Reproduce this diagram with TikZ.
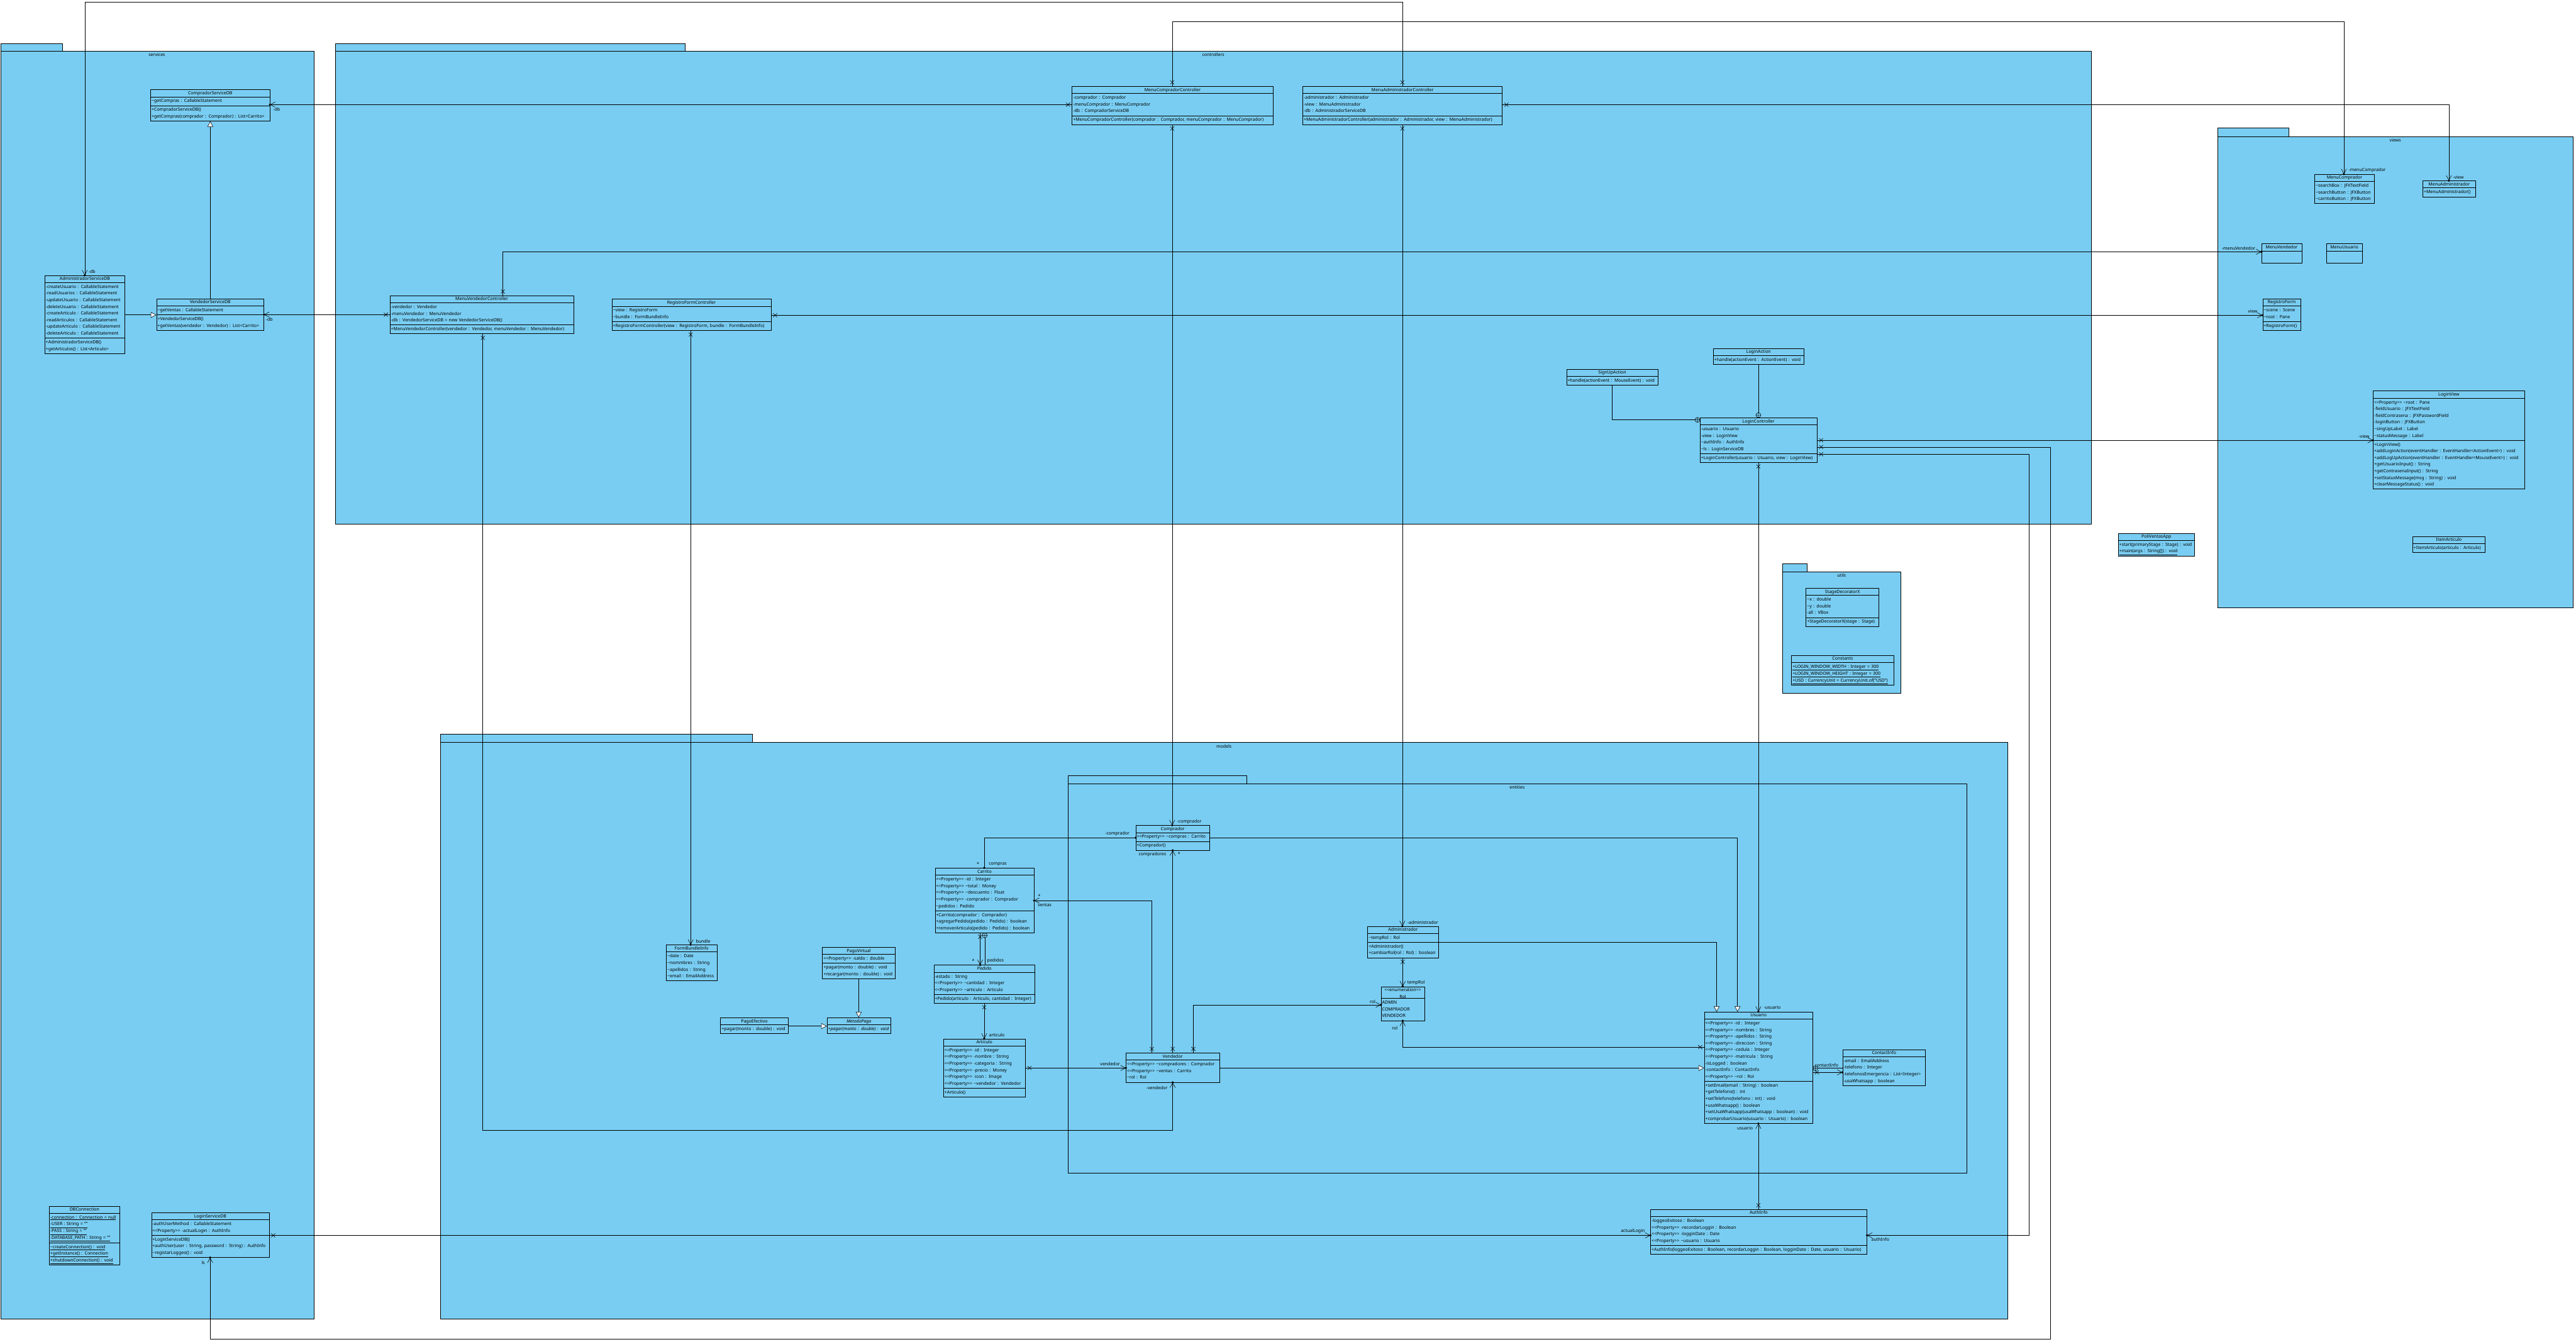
\documentclass[tikz,border=0pt]{standalone}
\usepackage{fontspec}
\setmainfont{Noto Sans}
\usetikzlibrary{arrows.meta,fit,decorations.markings}
\definecolor{pkg}{RGB}{121,205,242}
\newcommand\tfont{\fontsize{7.6}{11.55}\selectfont}
\newcommand\tld{\textasciitilde}
\newcommand\prp{<\kern0pt<Property>\kern0pt> }
\tikzset{
 ttl/.style={anchor=north west, fill=pkg, inner xsep=0.5mm, inner ysep=0mm, align=center, font=\tfont\bfseries, execute at begin node=\strut},
 cmp/.style={anchor=north west, fill=pkg, inner xsep=0.5mm, inner ysep=0.55mm, align=left, font=\tfont},
 pkgst/.style={draw, fill=pkg},
 lab/.style={font=\tfont, inner sep=0pt, anchor=west},
 plab/.style={font=\tfont, inner sep=0pt},
 own/.style={-{Straight Barb[length=3mm,width=3.2mm]}},
 gen/.style={-{Triangle[length=3.4mm,width=3.5mm,fill=white]}},
 dotn/.style={circle, fill=black, draw=none, inner sep=0pt, minimum size=1.4mm},
 xs/.style={postaction={decorate,decoration={markings,mark=at position 2.4mm with {\draw[-] (-1.2,-1.2)--(1.2,1.2) (-1.2,1.2)--(1.2,-1.2);}}}},
 cps/.style={postaction={decorate,decoration={markings,mark=at position 1.5mm with {\draw[-,fill=pkg] (0,0) circle (1.5mm) (-1.5,0)--(1.5,0) (0,-1.5)--(0,1.5);}}}},
 cpe/.style={postaction={decorate,decoration={markings,mark=at position -1.5mm with {\draw[-,fill=pkg] (0,0) circle (1.5mm) (-1.5,0)--(1.5,0) (0,-1.5)--(0,1.5);}}}},
}
\newcommand\lines[1]{\noindent\begin{tabular}{@{}l@{}}#1\end{tabular}}
\newcommand\clsC[7]{%
 \pgfmathsetlengthmacro\tw{(#4-1)*1mm}%
 \node[ttl,text width=\tw] (#1t) at (#2,#3) {#5};
 \node[cmp,text width=\tw] (#1a) at (#1t.south west) {\lines{#6}};
 \node[cmp,text width=\tw] (#1m) at (#1a.south west) {\lines{#7}};
 \node[draw,fit=(#1t)(#1a)(#1m),inner sep=0pt] (#1) {};
 \draw (#1a.north west) -- (#1a.north east) (#1m.north west) -- (#1m.north east);
}
\newcommand\clsB[6]{%
 \pgfmathsetlengthmacro\tw{(#4-1)*1mm}%
 \node[ttl,text width=\tw] (#1t) at (#2,#3) {#5};
 \node[cmp,text width=\tw] (#1a) at (#1t.south west) {\lines{#6}};
 \node[draw,fit=(#1t)(#1a),inner sep=0pt] (#1) {};
 \draw (#1a.north west) -- (#1a.north east);
}
\begin{document}
\begin{tikzpicture}[x=1mm,y=-1mm,line width=0.6pt]
\useasboundingbox (0,0) rectangle (1568,816.6);
\fill[white] (0,0) rectangle (1568,816.6);
% packages
\draw[pkgst] (0.3,26.5) rectangle (38,31);
\draw[pkgst] (0.3,31) rectangle (191,803);
\node[plab] (pservices) at (95.5,33.3) {services};
\draw[pkgst] (204,26.5) rectangle (417,31);
\draw[pkgst] (204,31) rectangle (1273,319);
\node[plab] (pcontrollers) at (738.5,33.3) {controllers};
\draw[pkgst] (1350,78) rectangle (1393,83);
\draw[pkgst] (1350,83) rectangle (1566,370);
\node[plab] (pviews) at (1458,85.3) {views};
\draw[pkgst] (1085,343) rectangle (1100,348);
\draw[pkgst] (1085,348) rectangle (1157,422);
\node[plab] (putils) at (1121,350.3) {utils};
\draw[pkgst] (268,447) rectangle (458,452);
\draw[pkgst] (268,452) rectangle (1222,803);
\node[plab] (pmodels) at (745,454.3) {models};
\draw[pkgst] (650,472) rectangle (759,477);
\draw[pkgst] (650,477) rectangle (1197,714);
\node[plab] (pentities) at (923.5,479.3) {entities};
% services
\clsC{csdb}{91.7}{54.6}{72.3}{CompradorServiceDB}{\tld getCompras : CallableStatement}{+CompradorServiceDB()\\+getCompras(comprador : Comprador) : List<Carrito>}
\clsC{asdb}{27.3}{167.7}{48.5}{AdministradorServiceDB}{-createUsuario : CallableStatement\\-readUsuarios : CallableStatement\\-updateUsuario : CallableStatement\\-deleteUsuario : CallableStatement\\-createArticulo : CallableStatement\\-readArticulos : CallableStatement\\-updateArticulo : CallableStatement\\-deleteArticulo : CallableStatement}{+AdministradorServiceDB()\\+getArticulos() : List<Articulo>}
\clsC{vsdb}{95.3}{181.9}{65.1}{VendedorServiceDB}{\tld getVentas : CallableStatement}{+VendedorServiceDB()\\+getVentas(vendedor : Vendedor) : List<Carrito>}
\clsC{dbc}{30}{734.2}{42.7}{DBConnection}{\underline{-connection : Connection = null}\\\underline{-USER : String = ""}\\\underline{-PASS : String = ""}\\\underline{-DATABASE\_PATH : String = ""}}{\underline{\tld createConnection() : void}\\\underline{+getInstance() : Connection}\\\underline{+shutdownConnection() : void}}
\clsC{lsdb}{92.2}{738.2}{71.4}{LoginServiceDB}{-authUserMethod : CallableStatement\\\prp -actualLogin : AuthInfo}{+LoginServiceDB()\\+authUser(user : String, password : String) : AuthInfo\\\tld registarLoggeo() : void}
% controllers
\clsC{mcc}{652.6}{52.6}{122.1}{MenuCompradorController}{-comprador : Comprador\\-menuComprador : MenuComprador\\-db : CompradorServiceDB}{+MenuCompradorController(comprador : Comprador, menuComprador : MenuComprador)}
\clsC{mac}{793}{52.6}{121.2}{MenuAdministradorController}{-administrador : Administrador\\-view : MenuAdministrador\\-db : AdministradorServiceDB}{+MenuAdministradorController(administrador : Administrador, view : MenuAdministrador)}
\clsC{mvc}{237.4}{180}{111.5}{MenuVendedorController}{-vendedor : Vendedor\\-menuVendedor : MenuVendedor\\-db : VendedorServiceDB = new VendedorServiceDB()}{+MenuVendedorController(vendedor : Vendedor, menuVendedor : MenuVendedor)}
\clsC{rfc}{372.5}{182.1}{96.6}{RegistroFormController}{\tld view : RegistroForm\\\tld bundle : FormBundleInfo}{+RegistroFormController(view : RegistroForm, bundle : FormBundleInfo)}
\clsB{sua}{953.5}{224.7}{55.5}{SignUpAction}{+handle(actionEvent : MouseEvent) : void}
\clsB{la}{1042.9}{212.1}{54.9}{LoginAction}{+handle(actionEvent : ActionEvent) : void}
\clsC{lc}{1034.8}{254.3}{71}{LoginController}{-usuario : Usuario\\-view : LoginView\\\tld authInfo : AuthInfo\\\tld ls : LoginServiceDB}{+LoginController(usuario : Usuario, view : LoginView)}
% views
\clsB{mcv}{1408.9}{106.1}{36.2}{MenuComprador}{\tld searchBox : JFXTextField\\\tld searchButton : JFXButton\\\tld carritoButton : JFXButton}
\clsB{mav}{1474.8}{110.1}{31.7}{MenuAdministrador}{+MenuAdministrador()}
\clsB{mvv}{1376.6}{148.4}{24.2}{MenuVendedor}{\rule{0pt}{4.8mm}}
\clsB{muv}{1416}{148.4}{21.7}{MenuUsuario}{\rule{0pt}{4.8mm}}
\clsC{rf}{1377.3}{181.9}{22.9}{RegistroForm}{\tld scene : Scene\\\tld root : Pane}{+RegistroForm()}
\clsC{lv}{1444.5}{238}{92}{LoginView}{\prp \tld root : Pane\\-fieldUsuario : JFXTextField\\-fieldContrasena : JFXPasswordField\\-loginButton : JFXButton\\\tld singUpLabel : Label\\\tld statusMessage : Label}{+LoginView()\\+addLoginAction(eventHandler : EventHandler<ActionEvent>) : void\\+addLogUpAction(eventHandler : EventHandler<MouseEvent>) : void\\+getUsuarioInput() : String\\+getContrasenaInput() : String\\+setStatusMessage(msg : String) : void\\+clearMessageStatus() : void}
\clsB{ia}{1468.6}{326.6}{43.9}{ItemArticulo}{+ItemArticulo(articulo : Articulo)}
\clsB{pva}{1289.4}{324.6}{46.1}{PoliVentasApp}{+start(primaryStage : Stage) : void\\\underline{+main(args : String[]) : void}}
% utils
\clsC{sdx}{1099.3}{358.1}{44.2}{StageDecoratorX}{\tld x : double\\\tld y : double\\-all : VBox}{+StageDecoratorX(stage : Stage)}
\clsB{cst}{1090.5}{399}{62}{Constants}{\underline{+LOGIN\_WINDOW\_WIDTH : Integer = 300}\\\underline{+LOGIN\_WINDOW\_HEIGHT : Integer = 300}\\\underline{+USD : CurrencyUnit = CurrencyUnit.of("USD")}}
% models
\clsB{fbi}{405.6}{575.2}{30.6}{FormBundleInfo}{\tld date : Date\\\tld nommbres : String\\\tld apellidos : String\\\tld email : EmailAddress}
\clsC{pv}{500.6}{576.7}{44}{PagoVirtual}{\prp -saldo : double}{+pagar(monto : double) : void\\+recargar(monto : double) : void}
\clsB{pe}{438.6}{619.5}{40.9}{PagoEfectivo}{+pagar(monto : double) : void}
\clsB{mp}{503.4}{619.5}{38.7}{\textit{MetodoPago}}{\textit{+pagar(monto : double) : void}}
\clsC{car}{569.2}{528.4}{59.9}{Carrito}{\prp -id : Integer\\\prp \tld total : Money\\\prp \tld descuento : Float\\\prp -comprador : Comprador\\\tld pedidos : Pedido}{+Carrito(comprador : Comprador)\\+agregarPedido(pedido : Pedido) : boolean\\+removerArticulo(pedido : Pedido) : boolean}
\clsC{ped}{568.4}{587.5}{61.3}{Pedido}{-estado : String\\\prp \tld cantidad : Integer\\\prp \tld articulo : Articulo}{+Pedido(articulo : Articulo, cantidad : Integer)}
\clsC{art}{574.3}{632.4}{49.6}{Articulo}{\prp -id : Integer\\\prp -nombre : String\\\prp -categoria : String\\\prp -precio : Money\\\prp -icon : Image\\\prp \tld vendedor : Vendedor}{+Articulo()}
\clsC{com}{691.4}{502.5}{44.6}{Comprador}{\prp \tld compras : Carrito}{+Comprador()}
\clsB{ven}{685.4}{641}{56.6}{Vendedor}{\prp \tld compradores : Comprador\\\prp \tld ventas : Carrito\\\tld rol : Rol}
\clsC{adm}{832.5}{563.9}{42.8}{Administrador}{\tld tempRol : Rol}{+Administrador()\\+cambiarRol(rol : Rol) : boolean}
\clsB{rol}{840.7}{600.6}{26.1}{{\mdseries <\kern0pt<enumeration>\kern0pt>}\\Rol}{ADMIN\\COMPRADOR\\VENDEDOR}
\clsC{usu}{1037.4}{616}{65.8}{Usuario}{\prp -id : Integer\\\prp -nombres : String\\\prp -apellidos : String\\\prp -direccion : String\\\prp -cedula : Integer\\\prp -matricula : String\\-isLogged : boolean\\-contactInfo : ContactInfo\\\prp \tld rol : Rol}{+setEmail(email : String) : boolean\\+getTelefono() : int\\+setTelefono(telefono : int) : void\\+usaWhatsapp() : boolean\\+setUsaWhatsapp(usaWhatsapp : boolean) : void\\+comprobarUsuario(usuario : Usuario) : boolean}
\clsB{ci}{1121.6}{638.9}{50.2}{ContactInfo}{-email : EmailAddress\\-telefono : Integer\\-telefonosEmergencia : List<Integer>\\-usaWhatsapp : boolean}
\clsC{ai}{1004.7}{736.2}{131.4}{AuthInfo}{-loggeoExitoso : Boolean\\\prp -recordarLoggin : Boolean\\\prp -logginDate : Date\\\prp \tld usuario : Usuario}{+AuthInfo(loggeoExitoso : Boolean, recordarLoggin : Boolean, logginDate : Date, usuario : Usuario)}
% connectors
\draw[gen] (vsdb.north -| 128,0) -- (csdb.south -| 128,0);
\draw[gen] (asdb.east |- 0,191.7) -- (vsdb.west |- 0,191.7);
\draw[own,xs] (mcc.west |- 0,63.7) -- (csdb.east |- 0,63.7) node[dotn]{};
\node[lab] at (166.3,66.6) {-db};
\draw[own,xs] (mvc.west |- 0,191.5) -- (vsdb.east |- 0,191.5) node[dotn]{};
\node[lab] at (161.8,194.3) {-db};
\draw[own,xs] (mac.north -| 853.6,0) -- (853.6,1.2) -- (51.6,1.2) -- (asdb.north -| 51.6,0) node[dotn]{};
\node[lab] at (53.8,165.2) {-db};
\draw[own,xs] (mcc.north -| 713.5,0) -- (713.5,13) -- (1426.7,13) -- (mcv.north -| 1426.7,0) node[dotn]{};
\node[lab] at (1429.5,103.8) {-menuComprador};
\draw[own,xs] (mac.east |- 0,63.7) -- (1490.6,63.7) -- (mav.north -| 1490.6,0) node[dotn]{};
\node[lab] at (1493,107.8) {-view};
\draw[own,xs] (mac.south -| 853.6,0) -- (adm.north -| 853.6,0) node[dotn]{};
\node[lab] at (856.6,561.6) {-administrador};
\draw[own,xs] (mcc.south -| 713.5,0) -- (com.north -| 713.5,0) node[dotn]{};
\node[lab] at (716.4,500.1) {-comprador};
\draw[own,xs] (mvc.north -| 306.1,0) -- (306.1,153.3) -- (mvv.west |- 0,153.3) node[dotn]{};
\node[lab] at (1352.3,151.1) {-menuVendedor};
\draw[own,xs] (mvc.south -| 293.9,0) -- (293.9,688) -- (713.8,688) -- (ven.south -| 713.8,0) node[dotn]{};
\node[lab] at (697.7,662.2) {-vendedor};
\draw[own,xs] (rfc.east |- 0,191.9) -- (rf.west |- 0,191.9) node[dotn]{};
\node[lab] at (1368.3,189.3) {view};
\draw[own,xs] (rfc.south -| 420.4,0) -- (fbi.north -| 420.4,0) node[dotn]{};
\node[lab] at (423.5,572.9) {bundle};
\draw[gen] (pv.south -| 522.7,0) -- (mp.north -| 522.7,0);
\draw[gen] (pe.east |- 0,624.6) -- (mp.west |- 0,624.6);
\draw[cpe] (sua.south -| 981.2,0) -- (981.2,255.6) -- (lc.west |- 0,255.6);
\draw[cpe] (la.south -| 1070.3,0) -- (lc.north -| 1070.3,0);
\draw[own,xs] (lc.east |- 0,268) -- (lv.west |- 0,268) node[dotn]{};
\node[lab] at (1435.6,265.7) {-view};
\draw[own,xs] (lc.east |- 0,272.1) -- (1248,272.1) -- (1248,815) -- (127.9,815) -- (lsdb.south -| 127.9,0) node[dotn]{};
\node[lab] at (122.6,768.5) {ls};
\draw[own,xs] (lc.east |- 0,276.5) -- (1235,276.5) -- (1235,752) -- (ai.east |- 0,752) node[dotn]{};
\node[lab] at (1139,754.6) {authInfo};
\draw[own,xs] (lsdb.east |- 0,752) -- (ai.west |- 0,752) node[dotn]{};
\node[lab] at (986.5,749.4) {actualLogin};
\draw[own,xs] (lc.south -| 1070.3,0) -- (usu.north -| 1070.3,0) node[dotn]{};
\node[lab] at (1073.4,613.4) {-usuario};
\draw[own,xs] (ai.north -| 1070.3,0) -- (usu.south -| 1070.3,0) node[dotn]{};
\node[lab] at (1057.3,686.6) {usuario};
\draw[gen] (com.east |- 0,509.9) -- (1057.6,509.9) -- (usu.north -| 1057.6,0);
\draw[gen] (adm.east |- 0,573.7) -- (1044.9,573.7) -- (usu.north -| 1044.9,0);
\draw[gen] (ven.east |- 0,650.1) -- (usu.west |- 0,650.1);
\draw[own,xs] (usu.west |- 0,637.4) -- (853.8,637.4) -- (rol.south -| 853.8,0) node[dotn]{};
\node[lab] at (847.2,625.8) {rol};
\draw[own,xs] (ven.north -| 726.4,0) -- (726.4,611.7) -- (rol.west |- 0,611.7) node[dotn]{};
\node[lab] at (833.7,609.6) {rol};
\draw[own,xs] (adm.south -| 853.8,0) -- (rol.north -| 853.8,0) node[dotn]{};
\node[lab] at (856.6,598.2) {tempRol};
\draw[own,xs] (art.east |- 0,650.1) -- (ven.west |- 0,650.1) node[dotn]{};
\node[lab] at (669.6,647.7) {vendedor};
\draw[own,xs] (ven.north -| 701.1,0) -- (701.1,548.2) -- (car.east |- 0,548.2) node[dotn]{};
\node[lab] at (631.8,545.6) {*};
\node[lab] at (631.7,551) {ventas};
\draw[own,xs] (ven.north -| 713.8,0) -- (com.south -| 713.8,0) node[dotn]{};
\node[lab] at (693,520) {compradores};
\node[lab] at (716.8,519.8) {*};
\draw (com.west |- 0,509.9) node[dotn]{} -- (599.1,509.9) -- (car.north -| 599.1,0) node[dotn]{};
\node[lab] at (672.6,507.6) {-comprador};
\node[lab] at (594.4,525.8) {*};
\node[lab] at (601.8,526) {compras};
\draw[own,xs] (car.south -| 596.6,0) -- (ped.north -| 596.6,0) node[dotn]{};
\node[lab] at (591.6,585) {*};
\node[lab] at (600.8,585) {pedidos};
\draw[cps] (car.south -| 599.4,0) -- (ped.north -| 599.4,0);
\draw[own,xs] (ped.south -| 599.1,0) -- (art.north -| 599.1,0) node[dotn]{};
\node[lab] at (601.9,630) {articulo};
\draw[cps] (usu.east |- 0,650.3) -- (ci.west |- 0,650.3);
\draw[own,xs] (usu.east |- 0,652.8) -- (ci.west |- 0,652.8) node[dotn]{};
\node[lab] at (1104.5,648.4) {contactInfo};
\end{tikzpicture}
\end{document}
